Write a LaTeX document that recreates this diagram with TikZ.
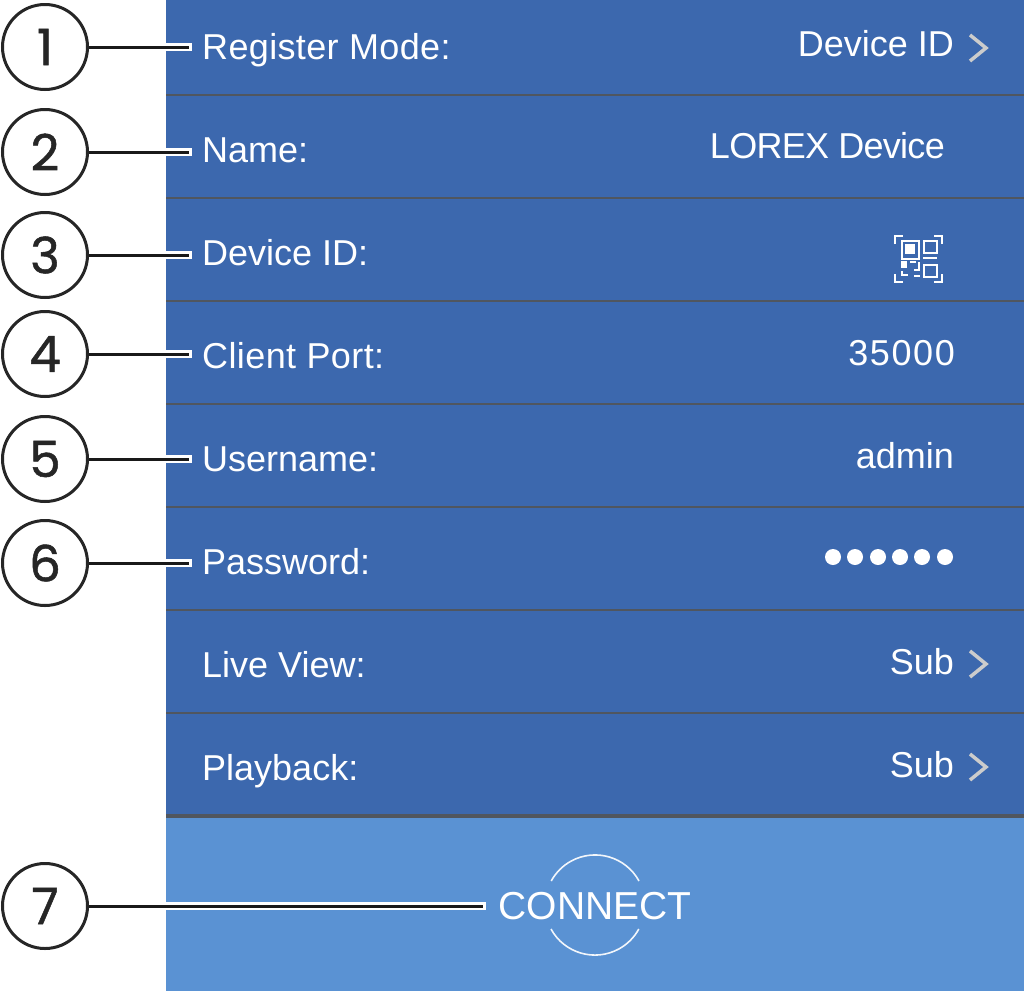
\documentclass[tikz,border=0pt]{standalone}
\usepackage{fontspec}
\setmainfont{Liberation Sans}
\newfontfamily\numfont[FakeBold=1]{Poppins}
\definecolor{rowblue}{HTML}{3C68AE}
\definecolor{btnblue}{HTML}{5A92D3}
\definecolor{rulegrey}{HTML}{50565F}
\tikzset{
	x=1pt, y=-1pt,
	numcircle/.style={circle, draw=black!85, line width=3pt, fill=white, minimum size=85pt, inner sep=0pt, font=\fontsize{50}{50}\numfont, text=black!85},
	rowlabel/.style={anchor=base west, inner sep=0pt, text=white, font=\fontsize{36}{40}\selectfont},
	rowvalue/.style={anchor=base east, inner sep=0pt, text=white, font=\fontsize{36}{40}\selectfont},
	leader/.style={draw=black!90, line width=3pt, preaction={draw=white, line width=8pt, shorten >=-3pt}},
	rowrule/.style={draw=rulegrey, line width=2.5pt},
	chevron/.style={draw=white!80!black, line width=3.5pt},
	qrline/.style={draw=white, line width=2.2pt},
	ringarc/.style={draw=white!92!btnblue, line width=1.6pt}
}
\begin{document}
\begin{tikzpicture}
	\useasboundingbox (0,0) rectangle (1024,991);
	\fill[white] (0,0) rectangle (1024,991);
	\fill[rowblue] (166,0) rectangle (1024,817);
	\fill[btnblue] (166,817) rectangle (1024,991);
	% rows
	\draw[rowrule] (166,95) -- (1024,95);
	\draw[rowrule] (166,198) -- (1024,198);
	\draw[rowrule] (166,301) -- (1024,301);
	\draw[rowrule] (166,404) -- (1024,404);
	\draw[rowrule] (166,507) -- (1024,507);
	\draw[rowrule] (166,610) -- (1024,610);
	\draw[rowrule] (166,713) -- (1024,713);
	\draw[rowrule, line width=3.5pt] (166,816) -- (1024,816);
	% left column
	\node[rowlabel] (register) at (202,59) {\addfontfeature{LetterSpace=1}Register Mode:};
	\node[rowlabel] (name) at (202,162) {Name:};
	\node[rowlabel] (deviceid) at (202,265) {Device ID:};
	\node[rowlabel] (port) at (202,368) {\addfontfeature{LetterSpace=1.1}Client Port:};
	\node[rowlabel] (username) at (202,471) {Username:};
	\node[rowlabel] (password) at (202,574) {Password:};
	\node[rowlabel] (liveview) at (202,677) {Live View:};
	\node[rowlabel] (playback) at (202,780) {Playback:};
	% right column
	\node[rowvalue] (registerval) at (954,56) {Device ID};
	\node[rowvalue] (nameval) at (945,158) {\addfontfeature{LetterSpace=-2}LOREX Device};
	\node[rowvalue] (portval) at (955,365) {\addfontfeature{LetterSpace=4.4}35000};
	\node[rowvalue] (userval) at (954,468) {admin};
	\node[rowvalue] (liveval) at (954,674) {Sub};
	\node[rowvalue] (playval) at (954,777) {Sub};
	% password dots
	\fill[white] (833,557) circle (8);
	\fill[white] (855,557) circle (8);
	\fill[white] (878,557) circle (8);
	\fill[white] (900,557) circle (8);
	\fill[white] (922,557) circle (8);
	\fill[white] (945,557) circle (8);
	% chevrons
	\draw[chevron] (970,35) -- (986,48) -- (970,61);
	\draw[chevron] (970,651) -- (986,664) -- (970,677);
	\draw[chevron] (970,754) -- (986,767) -- (970,780);
	% qr icon
	\draw[qrline] (895,244) -- (895,236) -- (903,236);
	\draw[qrline] (934,236) -- (942,236) -- (942,244);
	\draw[qrline] (895,274) -- (895,282) -- (903,282);
	\draw[qrline] (934,282) -- (942,282) -- (942,274);
	\draw[qrline] (902,241) rectangle (919,259);
	\fill[white] (905,244) rectangle (915,254);
	\draw[qrline] (924,241) rectangle (937,253);
	\draw[qrline] (923,258) -- (937,258);
	\draw[qrline] (924,265) rectangle (937,277);
	\fill[white] (901,261) rectangle (907,268);
	\draw[qrline] (910,262) -- (916,262);
	\draw[qrline] (919,262) -- (919,270) -- (914,270);
	\draw[qrline] (902,271) -- (902,275) -- (908,275);
	\draw[qrline] (914,276) -- (920,276);
	% connect button
	\node[inner sep=0pt, text=white, anchor=base, font=\fontsize{39}{40}\selectfont] (connect) at (595,919) {CONNECT};
	\draw[ringarc] (639,881) arc[start angle=-28.6, end angle=-151.4, radius=50];
	\draw[ringarc] (551,929) arc[start angle=151.4, end angle=28.6, radius=50];
	% numbers
	\node[numcircle] (num1) at (45,47) {1};
	\node[numcircle] (num2) at (45,152) {2};
	\node[numcircle] (num3) at (45,255) {3};
	\node[numcircle] (num4) at (45,354) {4};
	\node[numcircle] (num5) at (45,459) {5};
	\node[numcircle] (num6) at (45,563) {6};
	\node[numcircle] (num7) at (45,906) {7};
	\coordinate (tip1) at (189,47);
	\coordinate (tip2) at (189,152);
	\coordinate (tip3) at (189,255);
	\coordinate (tip4) at (189,354);
	\coordinate (tip5) at (189,459);
	\coordinate (tip6) at (189,563);
	\coordinate (tip7) at (483,906);
	\draw[leader] (num1) -- (tip1);
	\draw[leader] (num2) -- (tip2);
	\draw[leader] (num3) -- (tip3);
	\draw[leader] (num4) -- (tip4);
	\draw[leader] (num5) -- (tip5);
	\draw[leader] (num6) -- (tip6);
	\draw[leader] (num7) -- (tip7);
\end{tikzpicture}
\end{document}
